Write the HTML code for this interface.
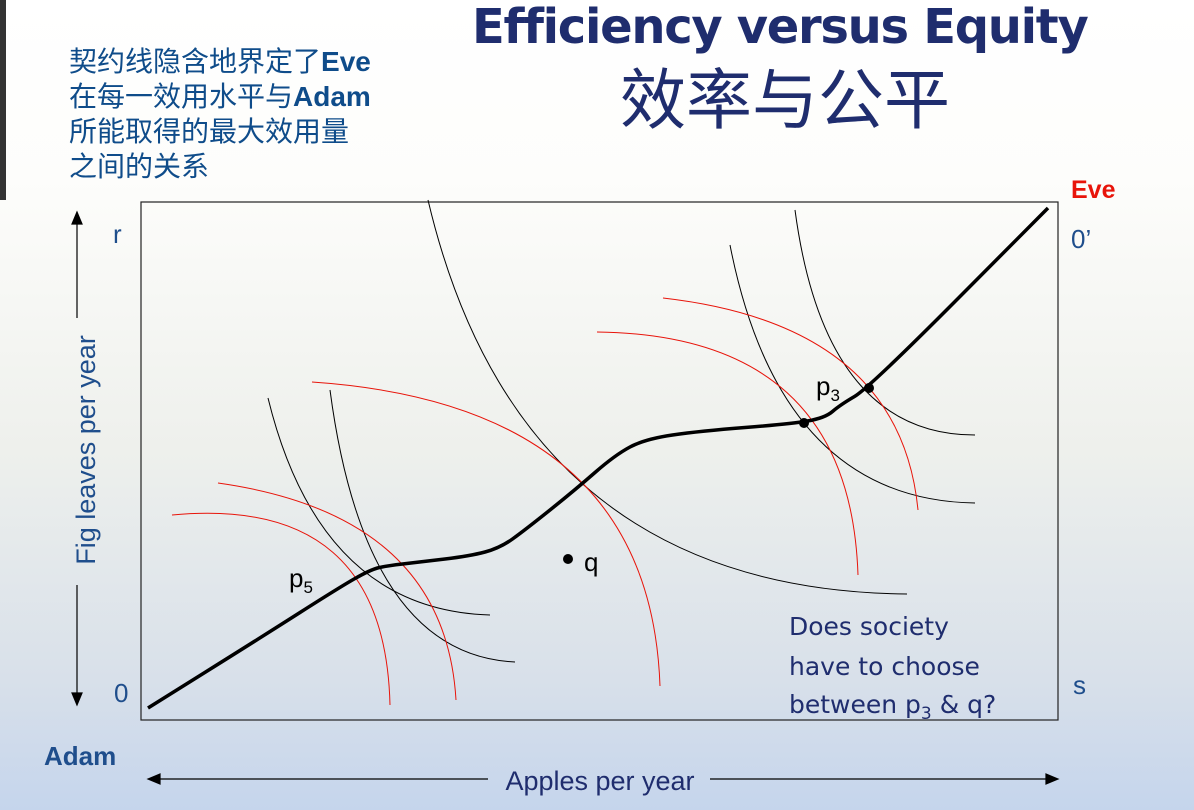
<!DOCTYPE html>
<html><head><meta charset="utf-8"><style>
body{margin:0;width:1194px;height:810px;overflow:hidden;background:linear-gradient(to bottom,#ffffff 0px,#fdfdfb 180px,#eef0ec 450px,#d8e0ea 680px,#c5d5ec 810px);font-family:"Liberation Sans","Noto Sans CJK SC",sans-serif;position:relative}
.t{position:absolute;white-space:nowrap}
</style></head><body>
<div style="position:absolute;left:0;top:0;width:6px;height:200px;background:#333"></div>
<div class="t" style="left:472px;top:-1px;font-size:48px;font-weight:bold;color:#1f2d6e;font-family:'DejaVu Sans','Liberation Sans',sans-serif;letter-spacing:-1.3px">Efficiency versus Equity</div>
<div class="t" style="left:620px;top:62px;font-size:66px;color:#1f2d6e;font-family:'Noto Sans CJK SC',sans-serif;line-height:1">效率与公平</div>
<div class="t" style="left:69px;top:44px;font-size:28px;line-height:35px;color:#0f4c8a;font-family:'Liberation Sans','Noto Sans CJK SC',sans-serif">契约线隐含地界定了<b>Eve</b><br>在每一效用水平与<b>Adam</b><br>所能取得的最大效用量<br>之间的关系</div>
<svg width="1194" height="810" style="position:absolute;left:0;top:0">
<rect x="141" y="202" width="917" height="518" fill="none" stroke="#222" stroke-width="1.2"/>
<g fill="none" stroke="#000" stroke-width="1">
<path d="M268,398 Q320,610 490,615"/>
<path d="M330,390 Q365,655 515,662"/>
<path d="M428,200 Q520,590 907,594"/>
<path d="M730,245 Q780,500 975,503"/>
<path d="M795,210 Q825,435 975,435"/>
</g>
<g fill="none" stroke="#e8140a" stroke-width="1">
<path d="M172,515 Q385,495 390,705"/>
<path d="M218,483 Q445,515 456,700"/>
<path d="M312,382 Q650,405 660,686"/>
<path d="M597,332 Q850,335 858,575"/>
<path d="M663,298 Q900,325 918,510"/>
</g>
<path id="cc" fill="none" stroke="#000" stroke-width="3.5"/>
<circle cx="869" cy="388" r="5"/>
<circle cx="804" cy="423" r="5"/>
<circle cx="568" cy="559" r="5"/>
<g font-family="Liberation Sans, sans-serif" font-size="26">
<text x="289" y="587">p<tspan font-size="17" dy="6">5</tspan></text>
<text x="584" y="571">q</text>
<text x="816" y="395">p<tspan font-size="17" dy="6">3</tspan></text>
<text x="113" y="243" fill="#1f4e8c">r</text>
<text x="114" y="702" fill="#1f4e8c">0</text>
<text x="1071" y="248" fill="#1f4e8c">0’</text>
<text x="1073" y="694" fill="#1f4e8c">s</text>
<text x="1071" y="198" fill="#e8140a" font-weight="bold" font-size="25">Eve</text>
<text x="44" y="765" fill="#1f4e8c" font-weight="bold" font-size="26">Adam</text>
<text x="600" y="790" text-anchor="middle" fill="#1f2d6e" font-size="27">Apples per year</text>
<text transform="translate(95,450) rotate(-90)" text-anchor="middle" fill="#1f4e8c" font-size="27">Fig leaves per year</text>
</g>
<g font-family="DejaVu Sans, sans-serif" font-size="25" fill="#1f2d6e">
<text x="789" y="635">Does society</text>
<text x="789" y="675">have to choose</text>
<text x="789" y="713">between p<tspan font-size="17" dy="6">3</tspan><tspan dy="-6"> &amp; q?</tspan></text>
</g>
<g stroke="#000" stroke-width="1.2" fill="#000">
<line x1="158" y1="779" x2="488" y2="779"/>
<line x1="710" y1="779" x2="1048" y2="779"/>
<path d="M148,779 L160,774 L160,784 Z"/><path d="M1058,779 L1046,774 L1046,784 Z"/>
<line x1="77" y1="222" x2="77" y2="318"/>
<line x1="77" y1="585" x2="77" y2="695"/>
<path d="M77,212 L72,224 L82,224 Z"/><path d="M77,705 L72,693 L82,693 Z"/>
</g>
</svg>
<script>
const ccX=[148,260,340,370,385,420,470,500,525,575,615,645,700,790,825,840,869,1048];
const ccY=[708,638,587,570,566,562,556,548,530,490,455,439,431,424,418,405,388,208];
let d='M'+ccX[0]+','+ccY[0];
for(let i=1;i<ccX.length;i++){
 const mx=(ccX[i-1]+ccX[i])/2,my=(ccY[i-1]+ccY[i])/2;
 d+=' Q'+ccX[i-1]+','+ccY[i-1]+' '+mx+','+my;
}
d+=' L'+ccX[ccX.length-1]+','+ccY[ccY.length-1];
document.getElementById('cc').setAttribute('d',d);
</script>
</body></html>
